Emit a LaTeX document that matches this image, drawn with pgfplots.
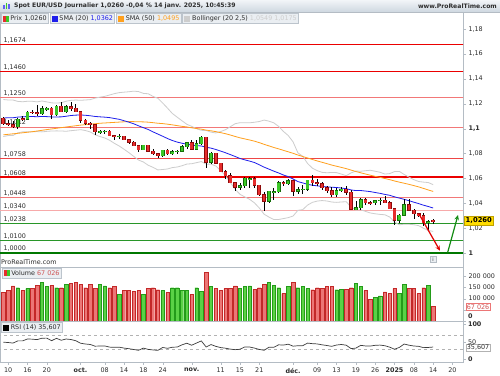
\documentclass[border=0pt]{standalone}
\usepackage{pgfplots}
\pgfplotsset{compat=1.18}
\usepackage{pgfplotstable}
\usepackage{fontspec}
\setmainfont{DejaVu Sans}
\usetikzlibrary{arrows.meta}

\definecolor{cup}{RGB}{60,200,40}
\definecolor{cupd}{RGB}{20,110,10}
\definecolor{cdn}{RGB}{230,45,45}
\definecolor{cdnd}{RGB}{140,10,10}
\definecolor{smablue}{RGB}{30,30,235}
\definecolor{smaor}{RGB}{255,160,30}
\definecolor{bollc}{RGB}{205,205,205}
\definecolor{framec}{RGB}{180,188,196}
\definecolor{resred}{RGB}{235,0,0}
\definecolor{resmid}{RGB}{238,70,70}
\definecolor{reslt}{RGB}{242,120,120}
\definecolor{respk}{RGB}{247,170,170}
\definecolor{supg}{RGB}{40,150,40}
\definecolor{supgd}{RGB}{0,120,0}
\definecolor{volr}{RGB}{236,118,118}
\definecolor{volrd}{RGB}{195,40,40}
\definecolor{volg}{RGB}{90,210,70}
\definecolor{volgd}{RGB}{35,155,25}
\definecolor{txt}{RGB}{45,45,45}
\definecolor{legfill}{RGB}{234,238,242}
\definecolor{legdraw}{RGB}{188,196,204}
\definecolor{ylw}{RGB}{255,220,0}
\definecolor{arrr}{RGB}{225,0,0}
\definecolor{arrg}{RGB}{20,140,20}
\definecolor{rsic}{RGB}{60,60,60}

\newcommand{\sz}{\fontsize{6.4}{7.5}\selectfont}

\pgfplotstableread{
i o h l c
3 1.1015 1.1085 1.1000 1.1075
5 1.1075 1.1140 1.1070 1.1132
8 1.1118 1.1180 1.1112 1.1160
9 1.1160 1.1170 1.1140 1.1163
11 1.1110 1.1190 1.1100 1.1180
13 1.1135 1.1190 1.1125 1.1175
20 1.0975 1.0990 1.0955 1.0978
21 1.0978 1.0990 1.0955 1.0980
24 1.0936 1.0955 1.0920 1.0938
29 1.0832 1.0870 1.0825 1.0865
33 1.0780 1.0830 1.0775 1.0825
35 1.0797 1.0825 1.0790 1.0815
36 1.0815 1.0830 1.0795 1.0818
37 1.0818 1.0870 1.0815 1.0855
38 1.0855 1.0890 1.0835 1.0885
40 1.0835 1.0905 1.0830 1.0880
41 1.0880 1.0937 1.0865 1.0930
43 1.0730 1.0810 1.0715 1.0800
49 1.0530 1.0565 1.0510 1.0540
50 1.0540 1.0610 1.0525 1.0600
51 1.0595 1.0610 1.0520 1.0598
55 1.0415 1.0500 1.0405 1.0495
56 1.0488 1.0520 1.0425 1.0492
57 1.0492 1.0575 1.0480 1.0565
59 1.0555 1.0595 1.0550 1.0580
61 1.0497 1.0530 1.0475 1.0510
62 1.0510 1.0545 1.0475 1.0512
63 1.0512 1.0590 1.0495 1.0585
69 1.0468 1.0525 1.0450 1.0500
70 1.0500 1.0530 1.0490 1.0512
73 1.0350 1.0415 1.0345 1.0362
74 1.0362 1.0445 1.0345 1.0430
77 1.0403 1.0430 1.0385 1.0420
78 1.0420 1.0440 1.0390 1.0425
82 1.0265 1.0310 1.0240 1.0305
83 1.0305 1.0435 1.0295 1.0390
88 1.0243 1.0265 1.0180 1.0250
}\upc

\pgfplotstableread{
i o h l c
0 1.1085 1.1090 1.1030 1.1040
1 1.1040 1.1070 1.1020 1.1032
2 1.1032 1.1060 1.1002 1.1015
4 1.1078 1.1100 1.1060 1.1075
6 1.1132 1.1148 1.1115 1.1128
7 1.1128 1.1190 1.1100 1.1118
10 1.1163 1.1170 1.1080 1.1110
12 1.1180 1.1214 1.1130 1.1135
14 1.1175 1.1210 1.1140 1.1163
15 1.1163 1.1200 1.1130 1.1135
16 1.1135 1.1145 1.1045 1.1068
17 1.1068 1.1080 1.1030 1.1045
18 1.1045 1.1050 1.1000 1.1030
19 1.1030 1.1040 1.0950 1.0975
22 1.0980 1.0985 1.0940 1.0942
23 1.0942 1.0950 1.0905 1.0936
25 1.0938 1.0940 1.0905 1.0910
26 1.0910 1.0915 1.0880 1.0890
27 1.0890 1.0900 1.0860 1.0862
28 1.0862 1.0870 1.0810 1.0832
30 1.0865 1.0870 1.0815 1.0818
31 1.0818 1.0840 1.0790 1.0797
32 1.0797 1.0800 1.0760 1.0780
34 1.0825 1.0835 1.0790 1.0797
39 1.0885 1.0905 1.0830 1.0835
42 1.0930 1.0935 1.0680 1.0730
44 1.0800 1.0805 1.0715 1.0720
45 1.0720 1.0725 1.0650 1.0655
46 1.0655 1.0665 1.0595 1.0620
47 1.0620 1.0640 1.0560 1.0565
48 1.0565 1.0570 1.0495 1.0530
52 1.0598 1.0610 1.0525 1.0545
53 1.0545 1.0550 1.0460 1.0470
54 1.0470 1.0490 1.0335 1.0415
58 1.0565 1.0580 1.0535 1.0555
60 1.0580 1.0585 1.0460 1.0497
64 1.0585 1.0630 1.0540 1.0565
65 1.0565 1.0595 1.0535 1.0555
66 1.0555 1.0570 1.0510 1.0525
67 1.0525 1.0540 1.0480 1.0500
68 1.0500 1.0530 1.0450 1.0468
71 1.0512 1.0535 1.0470 1.0490
72 1.0490 1.0505 1.0345 1.0350
75 1.0430 1.0445 1.0385 1.0405
76 1.0405 1.0420 1.0385 1.0403
79 1.0425 1.0455 1.0400 1.0405
80 1.0405 1.0420 1.0350 1.0355
81 1.0355 1.0365 1.0225 1.0265
84 1.0390 1.0435 1.0340 1.0345
85 1.0345 1.0355 1.0275 1.0315
86 1.0315 1.0325 1.0290 1.0300
87 1.0300 1.0325 1.0215 1.0245
89 1.0262 1.0270 1.0235 1.0260
}\dnc

\pgfplotstableread{
i m u b
0 1.10852 1.12341 1.09363
1 1.10871 1.12302 1.09439
2 1.10872 1.12299 1.09445
3 1.10925 1.12187 1.09662
4 1.10949 1.12159 1.09738
5 1.10972 1.12198 1.09746
6 1.10971 1.12195 1.09747
7 1.10955 1.12148 1.09762
8 1.10978 1.12218 1.09737
9 1.10964 1.12149 1.09779
10 1.10939 1.12070 1.09808
11 1.10937 1.12056 1.09817
12 1.10944 1.12077 1.09811
13 1.10993 1.12202 1.09784
14 1.11051 1.12269 1.09832
15 1.11083 1.12295 1.09871
16 1.11095 1.12275 1.09914
17 1.11072 1.12300 1.09844
18 1.11032 1.12330 1.09734
19 1.10977 1.12450 1.09504
20 1.10946 1.12529 1.09363
21 1.10920 1.12591 1.09249
22 1.10884 1.12700 1.09067
23 1.10814 1.12811 1.08817
24 1.10746 1.12891 1.08600
25 1.10635 1.12930 1.08339
26 1.10516 1.12963 1.08068
27 1.10388 1.13009 1.07766
28 1.10224 1.12977 1.07470
29 1.10075 1.12831 1.07318
30 1.09929 1.12802 1.07055
31 1.09737 1.12589 1.06885
32 1.09560 1.12439 1.06680
33 1.09385 1.12056 1.06713
34 1.09202 1.11647 1.06756
35 1.09042 1.11215 1.06868
36 1.08917 1.10921 1.06912
37 1.08822 1.10629 1.07014
38 1.08749 1.10347 1.07151
39 1.08679 1.10182 1.07176
40 1.08630 1.09997 1.07263
41 1.08605 1.09861 1.07349
42 1.08499 1.09853 1.07145
43 1.08431 1.09715 1.07147
44 1.08322 1.09651 1.06993
45 1.08195 1.09762 1.06627
46 1.08060 1.09912 1.06207
47 1.07911 1.10149 1.05673
48 1.07760 1.10395 1.05125
49 1.07598 1.10474 1.04721
50 1.07489 1.10470 1.04507
51 1.07389 1.10466 1.04312
52 1.07272 1.10512 1.04031
53 1.07094 1.10569 1.03619
54 1.06903 1.10686 1.03120
55 1.06743 1.10598 1.02888
56 1.06580 1.10464 1.02696
57 1.06435 1.10178 1.02692
58 1.06270 1.09772 1.02768
59 1.06143 1.09441 1.02844
60 1.05951 1.08930 1.02972
61 1.05741 1.08048 1.03434
62 1.05632 1.07778 1.03486
63 1.05525 1.07197 1.03852
64 1.05447 1.06821 1.04073
65 1.05397 1.06620 1.04174
66 1.05350 1.06483 1.04216
67 1.05317 1.06452 1.04182
68 1.05286 1.06473 1.04099
69 1.05266 1.06461 1.04071
70 1.05222 1.06342 1.04102
71 1.05168 1.06212 1.04124
72 1.05071 1.06440 1.03701
73 1.05017 1.06589 1.03444
74 1.05024 1.06572 1.03476
75 1.04979 1.06616 1.03342
76 1.04935 1.06651 1.03218
77 1.04862 1.06572 1.03152
78 1.04797 1.06490 1.03104
79 1.04710 1.06346 1.03073
80 1.04639 1.06383 1.02894
81 1.04516 1.06546 1.02486
82 1.04413 1.06560 1.02265
83 1.04315 1.06312 1.02318
84 1.04205 1.06099 1.02311
85 1.04085 1.05896 1.02274
86 1.03973 1.05746 1.02199
87 1.03845 1.05699 1.01991
88 1.03736 1.05663 1.01809
89 1.03616 1.05494 1.01738
}\boll

\pgfplotstableread{
i s
0 1.0950
3 1.0962
6 1.0975
9 1.0992
13 1.1013
16 1.1028
20 1.1043
23 1.1050
26 1.1057
29 1.10540
30 1.10517
31 1.10477
32 1.10431
33 1.10402
34 1.10356
35 1.10302
36 1.10240
37 1.10181
38 1.10135
39 1.10064
40 1.10008
41 1.09957
42 1.09879
43 1.09823
44 1.09758
45 1.09675
46 1.09590
47 1.09485
48 1.09369
49 1.09260
50 1.09172
51 1.09085
52 1.08991
53 1.08870
54 1.08738
55 1.08610
56 1.08483
57 1.08373
58 1.08252
59 1.08135
60 1.08012
61 1.07878
62 1.07754
63 1.07636
64 1.07516
65 1.07400
66 1.07292
67 1.07183
68 1.07070
69 1.06975
70 1.06882
71 1.06784
72 1.06666
73 1.06551
74 1.06449
75 1.06348
76 1.06251
77 1.06162
78 1.06081
79 1.05990
80 1.05896
81 1.05790
82 1.05695
83 1.05608
84 1.05518
85 1.05418
86 1.05314
87 1.05192
88 1.05065
89 1.04950
}\smaf

\pgfplotstableread{
i v
3 149000
5 145000
8 172000
9 155000
11 149000
13 163000
20 163000
21 157000
24 118000
29 118000
33 136000
35 149000
36 149000
37 136000
38 136000
40 149000
41 133000
43 155000
49 145000
50 155000
51 157000
55 172000
56 160000
57 149000
59 155000
61 149000
62 155000
63 145000
69 140000
70 142000
73 167000
74 155000
77 107000
78 112000
82 123000
83 163000
88 160000
}\volup

\pgfplotstableread{
i v
0 127000
1 136000
2 157000
4 136000
6 145000
7 158000
10 158000
12 149000
14 167000
15 172000
16 163000
17 149000
18 163000
19 145000
22 149000
23 154000
25 136000
26 136000
27 133000
28 136000
30 145000
31 149000
32 140000
34 127000
39 119000
42 217000
44 145000
45 136000
46 145000
47 145000
48 157000
52 142000
53 149000
54 163000
58 123000
60 172000
64 140000
65 149000
66 145000
67 155000
68 155000
71 142000
72 149000
75 136000
76 97000
79 130000
80 123000
81 145000
84 145000
85 145000
86 123000
87 149000
89 67026
}\voldn

\pgfplotstableread{
i r
0 49.4
1 48.6
2 46.9
3 53.2
4 53.2
5 58.7
6 58.1
7 56.8
8 60.9
9 61.1
10 53.8
11 60.5
12 55.0
13 58.6
14 57.1
15 53.7
16 46.5
17 44.3
18 42.9
19 38.1
20 38.5
21 38.8
22 35.4
23 34.9
24 35.2
25 32.6
26 30.9
27 28.6
28 26.3
29 32.6
30 28.9
31 27.3
32 26.1
33 34.4
34 32.0
35 35.1
36 35.6
37 41.9
38 46.5
39 40.8
40 47.1
41 53.1
42 35.7
43 42.8
44 37.6
45 34.1
46 32.3
47 29.7
48 28.1
49 29.3
50 35.9
51 35.7
52 32.6
53 28.8
54 26.4
55 35.0
56 34.8
57 42.0
58 41.3
59 43.7
60 38.1
61 39.4
62 39.6
63 46.9
64 45.3
65 44.5
66 42.0
67 40.0
68 37.6
69 41.4
70 42.9
71 40.9
72 31.1
73 32.6
74 40.5
75 38.7
76 38.5
77 40.6
78 41.2
79 39.4
80 35.3
81 29.4
82 34.6
83 44.2
84 40.8
85 38.6
86 37.6
87 33.9
88 34.5
89 35.607
}\rsi

\pgfplotsset{
  panel/.style={
    anchor=north west, width=463pt, scale only axis,
    xmin=-0.683, xmax=95.18,
    axis line style={draw=framec},
    tick align=outside, major tick length=3pt,
    tick style={draw=framec},
    ytick pos=right, yticklabel pos=right,
    yticklabel style={font=\sz, text=txt, xshift=-1pt},
    scaled y ticks=false,
  },
  lvl/.style={forget plot, no markers},
}
\tikzset{
  legbox/.style={draw=legdraw, fill=legfill, anchor=west, font=\sz, text=txt,
    inner xsep=1.6pt, inner ysep=0pt, minimum height=10pt},
  lvllab/.style={anchor=south west, font=\sz, text=txt, inner sep=0.5pt, yshift=0.8pt},
}

\begin{document}
\begin{tikzpicture}
\path[use as bounding box, fill=white] (0pt,0pt) rectangle (500pt,-375pt);

% title bar
\shade[top color={rgb,255:red,242;green,245;blue,248}, bottom color={rgb,255:red,206;green,215;blue,224}] (0pt,0pt) rectangle (500pt,-12pt);
\draw[framec] (0pt,-12pt) -- (500pt,-12pt);

%================ main panel
\begin{axis}[panel, at={(0pt,-12pt)}, height=255pt,
  ymin=0.988746, ymax=1.193730,
  xtick=\empty,
  ytick={1,1.02,1.04,1.06,1.08,1.1,1.12,1.14,1.16,1.18},
  yticklabels={\textbf{1},{1,02},{1,04},{1,06},{1,08},\textbf{1,1},{1,12},{1,14},{1,16},{1,18}},
]
% support / resistance levels
\addplot[lvl, resred, line width=1.3pt] coordinates {(-1,1.1674) (96,1.1674)};
\addplot[lvl, resred, line width=1.3pt] coordinates {(-1,1.1460) (96,1.1460)};
\addplot[lvl, reslt, line width=0.9pt] coordinates {(-1,1.1250) (96,1.1250)};
\addplot[lvl, reslt, line width=0.9pt] coordinates {(-1,1.1012) (96,1.1012)};
\addplot[lvl, resmid, line width=0.9pt] coordinates {(-1,1.0758) (96,1.0758)};
\addplot[lvl, resred, line width=1.8pt] coordinates {(-1,1.0608) (96,1.0608)};
\addplot[lvl, reslt, line width=0.9pt] coordinates {(-1,1.0448) (96,1.0448)};
\addplot[lvl, respk, line width=1.5pt] coordinates {(-1,1.0340) (96,1.0340)};
\addplot[lvl, supg, line width=0.9pt] coordinates {(-1,1.0238) (96,1.0238)};
\addplot[lvl, supg, line width=0.9pt] coordinates {(-1,1.0100) (96,1.0100)};
\addplot[lvl, supgd, line width=1.6pt] coordinates {(-1,1.0000) (96,1.0000)};
\node[lvllab] at (axis cs:-0.1,1.1674) {1,1674};
\node[lvllab] at (axis cs:-0.1,1.1460) {1,1460};
\node[lvllab] at (axis cs:-0.1,1.1250) {1,1250};
\node[lvllab] at (axis cs:-0.1,1.1012) {1,1012};
\node[lvllab] at (axis cs:-0.1,1.0758) {1,0758};
\node[lvllab] at (axis cs:-0.1,1.0608) {1,0608};
\node[lvllab] at (axis cs:-0.1,1.0448) {1,0448};
\node[lvllab] at (axis cs:-0.1,1.0340) {1,0340};
\node[lvllab] at (axis cs:-0.1,1.0238) {1,0238};
\node[lvllab] at (axis cs:-0.1,1.0100) {1,0100};
\node[lvllab] at (axis cs:-0.1,1.0000) {1,0000};
% bollinger, sma
\addplot[lvl, bollc, line width=0.8pt] table[x=i, y=u] {\boll};
\addplot[lvl, bollc, line width=0.8pt] table[x=i, y=b] {\boll};
\addplot[lvl, smaor, line width=0.8pt] table[x=i, y=s] {\smaf};
\addplot[lvl, smablue, line width=0.8pt] table[x=i, y=m] {\boll};
% wicks
\addplot[lvl, draw=none, error bars/.cd, y dir=both, y explicit, error mark=none,
  error bar style={draw=black, solid, line width=0.6pt}]
  table[x=i, y expr={(\thisrow{h}+\thisrow{l})/2}, y error expr={(\thisrow{h}-\thisrow{l})/2}] {\upc};
\addplot[lvl, draw=none, error bars/.cd, y dir=both, y explicit, error mark=none,
  error bar style={draw=black, solid, line width=0.6pt}]
  table[x=i, y expr={(\thisrow{h}+\thisrow{l})/2}, y error expr={(\thisrow{h}-\thisrow{l})/2}] {\dnc};
% bodies
\addplot[lvl, draw=none, error bars/.cd, y dir=both, y explicit, error mark=none,
  error bar style={draw=cupd, solid, line width=3.8pt}]
  table[x=i, y expr={(\thisrow{o}+\thisrow{c})/2}, y error expr={abs(\thisrow{c}-\thisrow{o})/2+0.0004}] {\upc};
\addplot[lvl, draw=none, error bars/.cd, y dir=both, y explicit, error mark=none,
  error bar style={draw=cup, solid, line width=2.4pt}]
  table[x=i, y expr={(\thisrow{o}+\thisrow{c})/2}, y error expr={abs(\thisrow{c}-\thisrow{o})/2}] {\upc};
\addplot[lvl, draw=none, error bars/.cd, y dir=both, y explicit, error mark=none,
  error bar style={draw=cdnd, solid, line width=3.8pt}]
  table[x=i, y expr={(\thisrow{o}+\thisrow{c})/2}, y error expr={abs(\thisrow{c}-\thisrow{o})/2+0.0004}] {\dnc};
\addplot[lvl, draw=none, error bars/.cd, y dir=both, y explicit, error mark=none,
  error bar style={draw=cdn, solid, line width=2.4pt}]
  table[x=i, y expr={(\thisrow{o}+\thisrow{c})/2}, y error expr={abs(\thisrow{c}-\thisrow{o})/2}] {\dnc};
% arrows
\addplot[lvl, arrr, line width=1.2pt, -{Stealth[length=5pt,width=4.5pt]}] coordinates {(86.07,1.03135) (90.41,1.00185)};
\addplot[lvl, arrg, line width=1.2pt, -{Stealth[length=5pt,width=4.5pt]}] coordinates {(92.01,1.00056) (94.14,1.03055)};
\end{axis}

%================ volume panel
\begin{axis}[panel, at={(0pt,-267pt)}, height=54pt,
  ymin=0, ymax=241600,
  xtick=\empty,
  ytick={0,50000,100000,150000,200000},
  yticklabels={{},{},{100 000},{150 000},{200 000}},
  ybar, bar width=3.4pt,
]
\addplot[lvl, fill=volr, draw=volrd, line width=0.4pt, bar shift=0pt] table[x=i, y=v] {\voldn};
\addplot[lvl, fill=volg, draw=volgd, line width=0.4pt, bar shift=0pt] table[x=i, y=v] {\volup};
\end{axis}

%================ RSI panel
\begin{axis}[panel, at={(0pt,-321pt)}, height=41pt,
  ymin=-7.14, ymax=110,
  xtick={1,5,9,16,21,25,29,33,39,45,49,53,60,65,69,73,77,81,85,89,93},
  xticklabels={10,16,20,\textbf{oct.},08,14,18,24,\textbf{nov.},11,15,21,\textbf{déc.},09,13,19,26,\textbf{2025},08,14,20},
  xtick pos=bottom, major tick length=2.5pt,
  xticklabel style={font=\sz, text=txt},
  ytick={0,50,100},
  yticklabels={\textbf{0},50,\textbf{100}},
]
\addplot[lvl, gray!60, dashed, line width=0.5pt] coordinates {(-1,70) (96,70)};
\addplot[lvl, gray!60, dashed, line width=0.5pt] coordinates {(-1,30) (96,30)};
\addplot[lvl, rsic, line width=0.7pt] table[x=i, y=r] {\rsi};
\end{axis}

% title texts
\begin{scope}
\fill[smablue!70] (3pt,-9pt) rectangle (4.5pt,-5pt);
\fill[cup] (5.5pt,-9pt) rectangle (7pt,-3pt);
\fill[smablue!70] (8pt,-9pt) rectangle (9.5pt,-4pt);
\end{scope}
\node[anchor=west, font=\bfseries\fontsize{6.1}{7}\selectfont, text=txt, inner sep=0pt] at (14pt,-6pt) {Spot EUR/USD Journalier 1,0260 -0,04 \% 14 janv. 2025, 10:45:39};
\node[anchor=east, font=\bfseries\fontsize{6.1}{7}\selectfont, text=txt, inner sep=0pt] at (497pt,-6.5pt) {www.ProRealTime.com};

% legend row
\node[legbox] (L1) at (0.5pt,-18.5pt) {\hspace*{8pt}Prix 1,0260};
\fill[cdn] ([xshift=2pt,yshift=-3pt]L1.west) rectangle ++(3pt,6pt);
\fill[cup] ([xshift=5pt,yshift=-3pt]L1.west) rectangle ++(3pt,6pt);
\node[legbox] (L2) at ([xshift=1.2pt]L1.east) {\hspace*{8pt}SMA (20) \textcolor{smablue}{1,0362}};
\fill[smablue] ([xshift=2pt,yshift=-3pt]L2.west) rectangle ++(6pt,6pt);
\node[legbox] (L3) at ([xshift=1.2pt]L2.east) {\hspace*{8pt}SMA (50) \textcolor{smaor}{1,0495}};
\fill[smaor] ([xshift=2pt,yshift=-3pt]L3.west) rectangle ++(6pt,6pt);
\node[legbox] (L4) at ([xshift=1.2pt]L3.east) {\hspace*{8pt}Bollinger (20 2,5) \textcolor{bollc}{1,0549 1,0175}};
\fill[bollc] ([xshift=2pt,yshift=-3pt]L4.west) rectangle ++(6pt,6pt);

% volume / rsi headers
\node[anchor=west, font=\sz, text=txt, inner sep=0pt] at (1pt,-262pt) {ProRealTime.com};
\node[legbox] (V1) at (1.5pt,-273pt) {\hspace*{8pt}Volume \textcolor{volrd!80}{67 026}};
\fill[cdn] ([xshift=2pt,yshift=-3pt]V1.west) rectangle ++(3pt,6pt);
\fill[cup] ([xshift=5pt,yshift=-3pt]V1.west) rectangle ++(3pt,6pt);
\node[legbox] (R1) at (1pt,-327.5pt) {\hspace*{8pt}RSI (14) 35,607};
\fill[black] ([xshift=2pt,yshift=-3pt]R1.west) rectangle ++(6pt,6pt);

% info icon
\node[draw=framec, fill=legfill, font=\fontsize{5}{5}\selectfont, text=txt, inner sep=0.8pt, minimum width=6pt, minimum height=6pt] at (433pt,-259.5pt) {i};

% right side value boxes
\node[fill=ylw, draw={rgb,255:red,190;green,160;blue,0}, font=\bfseries\fontsize{6.8}{8}\selectfont, text=black, inner xsep=1.5pt, inner ysep=1.5pt, anchor=west] at (464pt,-220.5pt) {1,0260};
\node[anchor=west, font=\sz, text=txt, inner sep=0pt] at (468pt,-316pt) {\textbf{0}};
\node[fill=white, draw=volr, font=\sz, text=volrd!80, inner xsep=1.2pt, inner ysep=1pt, anchor=west] at (465.5pt,-307pt) {67 026};
\node[fill=white, draw=gray!60, font=\sz, text=txt, inner xsep=1.2pt, inner ysep=1pt, anchor=west] at (465.5pt,-347.5pt) {35,607};
\end{tikzpicture}
\end{document}
